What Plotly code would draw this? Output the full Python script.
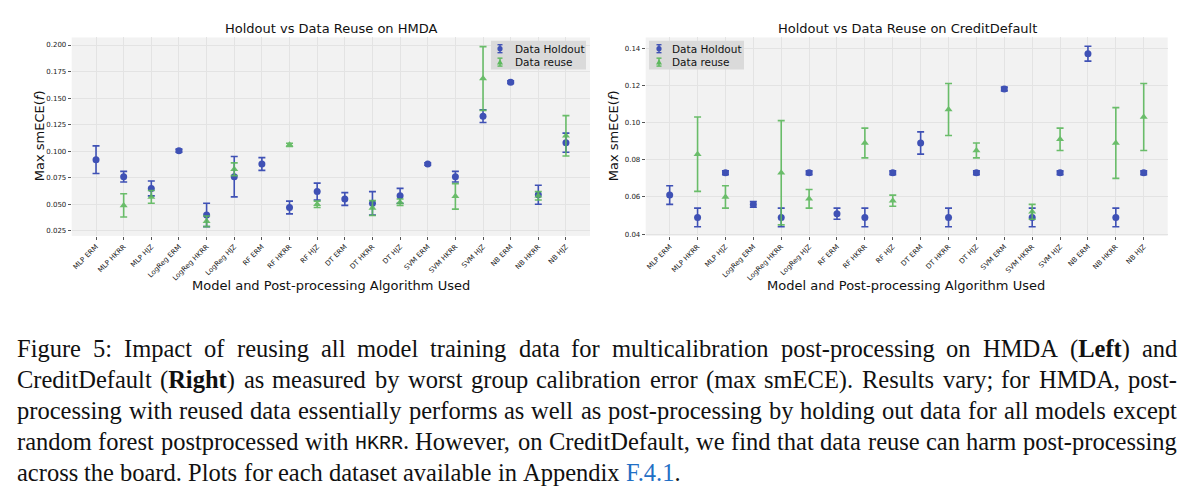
import glob
import struct
import plotly.graph_objects as go

categories = ["MLP ERM", "MLP HKRR", "MLP HJZ", "LogReg ERM", "LogReg HKRR", "LogReg HJZ",
              "RF ERM", "RF HKRR", "RF HJZ", "DT ERM", "DT HKRR", "DT HJZ",
              "SVM ERM", "SVM HKRR", "SVM HJZ", "NB ERM", "NB HKRR", "NB HJZ"]
reuse_categories = ["MLP HKRR", "MLP HJZ", "LogReg HKRR", "LogReg HJZ", "RF HKRR", "RF HJZ",
                    "DT HKRR", "DT HJZ", "SVM HKRR", "SVM HJZ", "NB HKRR", "NB HJZ"]

hmda_holdout = [0.092, 0.076, 0.065, 0.1005, 0.040, 0.076, 0.088, 0.047, 0.062,
                0.055, 0.051, 0.058, 0.088, 0.076, 0.133, 0.165, 0.059, 0.108]
hmda_holdout_err = [0.013, 0.005, 0.007, 0.0015, 0.011, 0.019, 0.006, 0.006, 0.008,
                    0.006, 0.011, 0.007, 0.0012, 0.005, 0.006, 0.0012, 0.009, 0.009]
hmda_reuse = [0.049, 0.057, 0.034, 0.083, 0.106, 0.050, 0.0465, 0.052, 0.0575, 0.1685, 0.058, 0.1145]
hmda_reuse_err = [0.011, 0.006, 0.005, 0.006, 0.0015, 0.003, 0.007, 0.003, 0.012, 0.030, 0.004, 0.019]

cd_holdout = [0.061, 0.049, 0.073, 0.056, 0.049, 0.073, 0.051, 0.049, 0.073,
              0.089, 0.049, 0.073, 0.118, 0.049, 0.073, 0.137, 0.049, 0.073]
cd_holdout_err = [0.005, 0.005, 0.001, 0.0015, 0.005, 0.001, 0.003, 0.005, 0.001,
                  0.006, 0.005, 0.001, 0.001, 0.005, 0.001, 0.004, 0.005, 0.001]
cd_reuse = [0.083, 0.060, 0.073, 0.059, 0.089, 0.058, 0.107, 0.085, 0.052, 0.091, 0.089, 0.103]
cd_reuse_err = [0.020, 0.006, 0.028, 0.005, 0.008, 0.003, 0.014, 0.004, 0.004, 0.006, 0.019, 0.018]

titles = ["Holdout vs Data Reuse on HMDA", "Holdout vs Data Reuse on CreditDefault"]
xlabel = "Model and Post-processing Algorithm Used"
ylabel = "Max smECE(<i>f</i>)"
legend_names = ["Data Holdout", "Data reuse"]

# caption lines (**bold**, `mono`); the first four are justified
caption_lines = [
    "Figure 5: Impact of reusing all model training data for multicalibration post-processing on HMDA (**Left**) and",
    "CreditDefault (**Right**) as measured by worst group calibration error (max smECE). Results vary; for HMDA, post-",
    "processing with reused data essentially performs as well as post-processing by holding out data for all models except",
    "random forest postprocessed with `HKRR`. However, on CreditDefault, we find that data reuse can harm post-processing",
    "across the board. Plots for each dataset available in Appendix [F.4.1].",
]

BLUE = "#3F51B5"
GREEN = "#5CB85C"
LINK = "#1F6FC5"
W, H = 1200, 497

fig = go.Figure()

def add_pair(xa, ya, hold, hold_err, reuse, reuse_err):
    fig.add_trace(go.Scatter(
        x=categories, y=hold, mode="markers", name=legend_names[0],
        xaxis=xa, yaxis=ya, showlegend=False,
        marker=dict(symbol="circle", size=7, color=BLUE),
        error_y=dict(type="data", array=hold_err, color=BLUE, thickness=1.6, width=3.5)))
    fig.add_trace(go.Scatter(
        x=reuse_categories, y=reuse, mode="markers", name=legend_names[1],
        xaxis=xa, yaxis=ya, showlegend=False, opacity=0.9,
        marker=dict(symbol="triangle-up", size=7, color=GREEN),
        error_y=dict(type="data", array=reuse_err, color=GREEN, thickness=1.6, width=3.5)))

add_pair("x", "y", hmda_holdout, hmda_holdout_err, hmda_reuse, hmda_reuse_err)
add_pair("x2", "y2", cd_holdout, cd_holdout_err, cd_reuse, cd_reuse_err)

ydom = [1 - 237.3 / H, 1 - 37.7 / H]
tickfont = dict(family="DejaVu Sans", size=7, color="#222")
common_x = dict(type="category", tickangle=-45, tickfont=tickfont, ticks="outside",
                ticklen=3, tickcolor="#555", showgrid=True, gridcolor="#E3E3E3",
                zeroline=False, showline=False)
common_y = dict(tickfont=tickfont, ticks="outside", ticklen=3, tickcolor="#555",
                showgrid=True, gridcolor="#E3E3E3", zeroline=False, showline=False)

fig.update_layout(
    width=W, height=H, margin=dict(l=0, r=0, t=0, b=0),
    paper_bgcolor="white", plot_bgcolor="#F2F2F2", showlegend=False,
    xaxis=dict(common_x, domain=[71.7 / W, 590 / W], range=[-0.88, 17.87],
               categoryorder="array", categoryarray=categories, anchor="y"),
    yaxis=dict(common_y, domain=ydom, range=[0.0203, 0.2071],
               tickvals=[0.025, 0.05, 0.075, 0.1, 0.125, 0.15, 0.175, 0.2],
               tickformat=".3f", anchor="x"),
    xaxis2=dict(common_x, domain=[645.7 / W, 1167.7 / W], range=[-0.86, 17.86],
                categoryorder="array", categoryarray=categories, anchor="y2"),
    yaxis2=dict(common_y, domain=ydom, range=[0.0391, 0.1457],
                tickvals=[0.04, 0.06, 0.08, 0.10, 0.12, 0.14],
                tickformat=".2f", anchor="x2"),
)

def px(xp, yp):
    return xp / W, 1 - yp / H

ann = []
shapes = []

for (cx, title), (xl_cx, yl_x) in zip([(331, titles[0]), (907, titles[1])], [(331, 39), (906, 613)]):
    x, y = px(cx, 29)
    ann.append(dict(x=x, y=y, xref="paper", yref="paper", text=title, showarrow=False,
                    font=dict(family="DejaVu Sans", size=13, color="#111"), xanchor="center", yanchor="middle"))
    x, y = px(xl_cx, 287)
    ann.append(dict(x=x, y=y, xref="paper", yref="paper", text=xlabel, showarrow=False,
                    font=dict(family="DejaVu Sans", size=13, color="#111"), xanchor="center", yanchor="middle"))
    x, y = px(yl_x, 137)
    ann.append(dict(x=x, y=y, xref="paper", yref="paper", text=ylabel, showarrow=False, textangle=-90,
                    font=dict(family="DejaVu Sans", size=13, color="#111"), xanchor="center", yanchor="middle"))

# legend boxes
def legend_box(x0, x1, gx, tx):
    shapes.append(dict(type="rect", xref="paper", yref="paper", layer="above",
                       x0=x0 / W, x1=x1 / W, y0=1 - 70 / H, y1=1 - 41 / H,
                       fillcolor="#DADADA", line=dict(width=0)))
    for row, (name, col) in enumerate(zip(legend_names, [BLUE, GREEN])):
        cy = 49 + row * 13.5
        shapes.append(dict(type="line", xref="paper", yref="paper", layer="above",
                           x0=gx / W, x1=gx / W, y0=1 - (cy - 4) / H, y1=1 - (cy + 4) / H,
                           line=dict(color=col, width=1.4)))
        for dy in (-4, 4):
            shapes.append(dict(type="line", xref="paper", yref="paper", layer="above",
                               x0=(gx - 2.5) / W, x1=(gx + 2.5) / W,
                               y0=1 - (cy + dy) / H, y1=1 - (cy + dy) / H,
                               line=dict(color=col, width=1.4)))
        if row == 0:
            shapes.append(dict(type="circle", xref="paper", yref="paper", layer="above",
                               x0=(gx - 2.6) / W, x1=(gx + 2.6) / W,
                               y0=1 - (cy + 2.6) / H, y1=1 - (cy - 2.6) / H,
                               fillcolor=col, line=dict(width=0)))
        else:
            shapes.append(dict(type="path", xref="paper", yref="paper", layer="above",
                               path="M {a},{b} L {c},{b} L {d},{e} Z".format(
                                   a=(gx - 3) / W, b=1 - (cy + 2.5) / H, c=(gx + 3) / W,
                                   d=gx / W, e=1 - (cy - 3) / H),
                               fillcolor=col, line=dict(width=0)))
        x, y = px(tx, cy)
        ann.append(dict(x=x, y=y, xref="paper", yref="paper", text=name, showarrow=False,
                        font=dict(family="DejaVu Sans", size=10.5, color="#111"),
                        xanchor="left", yanchor="middle"))

legend_box(491, 586, 500, 513)
legend_box(649, 744, 659, 670)

# ---------- caption text measurement (reads advance widths from the font files) ----------
def load_width_fn(patterns, fallback_em):
    path = None
    for p in patterns:
        hits = glob.glob(p, recursive=True)
        if hits:
            path = hits[0]
            break
    if path is None:
        return lambda s, size: len(s) * fallback_em * size
    try:
        data = open(path, "rb").read()
        ntab = struct.unpack(">H", data[4:6])[0]
        tables = {}
        for i in range(ntab):
            rec = data[12 + 16 * i: 28 + 16 * i]
            tables[rec[:4].decode("latin1")] = struct.unpack(">III", rec[4:])[1]
        upm = struct.unpack(">H", data[tables["head"] + 18: tables["head"] + 20])[0]
        nhm = struct.unpack(">H", data[tables["hhea"] + 34: tables["hhea"] + 36])[0]
        ho = tables["hmtx"]
        adv = [struct.unpack(">H", data[ho + 4 * i: ho + 4 * i + 2])[0] for i in range(nhm)]
        co = tables["cmap"]
        nsub = struct.unpack(">H", data[co + 2: co + 4])[0]
        sub = None
        for i in range(nsub):
            pid, eid, so = struct.unpack(">HHI", data[co + 4 + 8 * i: co + 12 + 8 * i])
            if pid == 3 and eid == 1 and struct.unpack(">H", data[co + so: co + so + 2])[0] == 4:
                sub = co + so
        segx2 = struct.unpack(">H", data[sub + 6: sub + 8])[0]
        seg = segx2 // 2
        ends = struct.unpack(">%dH" % seg, data[sub + 14: sub + 14 + segx2])
        so_ = sub + 16 + segx2
        starts = struct.unpack(">%dH" % seg, data[so_: so_ + segx2])
        do_ = so_ + segx2
        deltas = struct.unpack(">%dh" % seg, data[do_: do_ + segx2])
        ro_ = do_ + segx2
        ros = struct.unpack(">%dH" % seg, data[ro_: ro_ + segx2])

        def gid(c):
            for k in range(seg):
                if ends[k] >= c:
                    if starts[k] > c:
                        return 0
                    if ros[k] == 0:
                        return (c + deltas[k]) & 0xFFFF
                    addr = ro_ + 2 * k + ros[k] + 2 * (c - starts[k])
                    g = struct.unpack(">H", data[addr: addr + 2])[0]
                    return (g + deltas[k]) & 0xFFFF if g else 0
            return 0

        def width(s, size):
            tot = 0
            for ch in s:
                g = gid(ord(ch))
                tot += adv[g] if g < nhm else adv[-1]
            return tot * size / upm
        return width
    except Exception:
        return lambda s, size: len(s) * fallback_em * size

w_reg = load_width_fn(["/usr/share/fonts/**/LiberationSerif-Regular.ttf"], 0.45)
w_bold = load_width_fn(["/usr/share/fonts/**/LiberationSerif-Bold.ttf"], 0.48)
w_mono = load_width_fn(["/usr/share/fonts/**/LiberationMono-Regular.ttf"], 0.6)

CAP_SIZE = 24.5
MONO_SIZE = 20
CAP_LEFT, CAP_RIGHT = 18, 1178

def word_markup(word):
    """Return (plotly html text, pixel width) for one caption word."""
    html, wid = "", 0.0
    i = 0
    while i < len(word):
        if word.startswith("**", i):
            j = word.index("**", i + 2)
            seg = word[i + 2: j]
            html += "<b>" + seg + "</b>"
            wid += w_bold(seg, CAP_SIZE)
            i = j + 2
        elif word[i] == "`":
            j = word.index("`", i + 1)
            seg = word[i + 1: j]
            html += '<span style="font-family:Liberation Mono;font-size:%dpx">%s</span>' % (MONO_SIZE, seg)
            wid += w_mono(seg, MONO_SIZE)
            i = j + 1
        elif word[i] == "[":
            j = word.index("]", i + 1)
            seg = word[i + 1: j]
            html += '<span style="color:%s">%s</span>' % (LINK, seg)
            wid += w_reg(seg, CAP_SIZE)
            i = j + 1
        else:
            html += word[i]
            wid += w_reg(word[i], CAP_SIZE)
            i += 1
    return html, wid

cap_font = dict(family="Liberation Serif", size=CAP_SIZE, color="#111")
for li, line in enumerate(caption_lines):
    yc = 351 + li * 31
    words = [word_markup(wd) for wd in line.split(" ")]
    justified = li < len(caption_lines) - 1
    if justified:
        total = sum(wd for _, wd in words)
        gap = (CAP_RIGHT - CAP_LEFT - total) / (len(words) - 1)
    else:
        gap = w_reg(" ", CAP_SIZE)
    xpos = CAP_LEFT
    for html, wd in words:
        x, y = px(xpos - 1, yc)
        ann.append(dict(x=x, y=y, xref="paper", yref="paper", text=html, showarrow=False,
                        font=cap_font, xanchor="left", yanchor="middle", borderpad=0, borderwidth=0))
        xpos += wd + gap

fig.update_layout(annotations=ann, shapes=shapes)
fig.write_html("out.html", post_script="document.body.style.margin='0';",
               config={"displayModeBar": False})
